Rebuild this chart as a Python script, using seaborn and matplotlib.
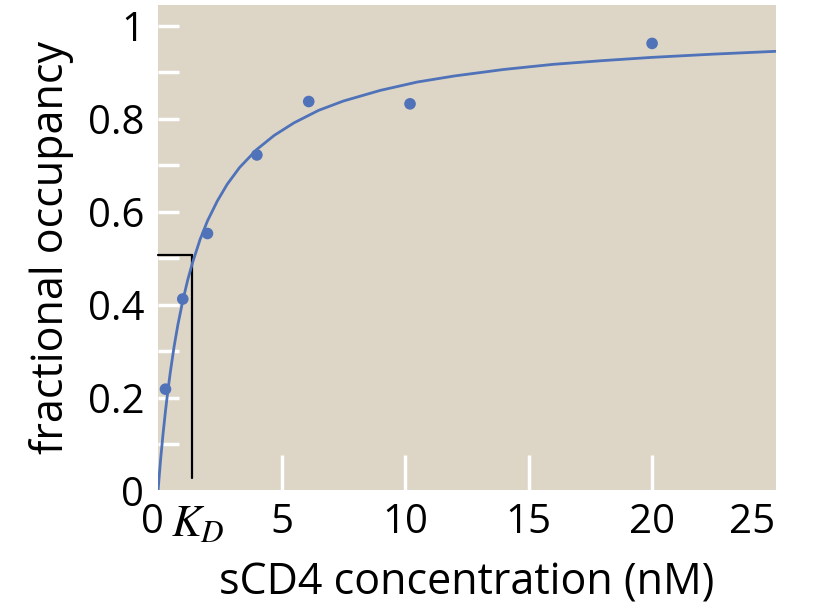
import matplotlib
matplotlib.use("Agg")
import matplotlib.pyplot as plt
import matplotlib.transforms as mtransforms
import seaborn as sns
import pandas as pd

conc = [0.3, 1.0, 2.0, 4.0, 6.1, 10.2, 20.0]
occupancy = [0.218, 0.412, 0.553, 0.722, 0.837, 0.832, 0.962]

# fitted curve, points
curve_x = [0, 0.05, 0.1, 0.2, 0.3, 0.4, 0.5, 0.65, 0.8, 1.0, 1.2, 1.4, 1.7, 2.0,
           2.4, 2.8, 3.3, 4.0, 4.7, 5.5, 6.5, 7.5, 9.0, 10.5, 12.0, 14.0,
           16.0, 18.0, 20.0, 22.5, 25.0]
curve_y = [0, 0.033, 0.065, 0.121, 0.171, 0.216, 0.256, 0.310, 0.356, 0.408,
           0.453, 0.491, 0.540, 0.580, 0.623, 0.659, 0.695, 0.734, 0.764,
           0.791, 0.818, 0.838, 0.861, 0.879, 0.892, 0.906, 0.917, 0.925,
           0.932, 0.939, 0.945]

# K_D bracket
kd = 1.38
kd_level = 0.507
kd_bottom = 0.027

x_ticks = [0, kd, 5, 10, 15, 20, 25]
x_labels = ["0", "$K_D$", "5", "10", "15", "20", "25"]
y_ticks = [0, 0.2, 0.4, 0.6, 0.8, 1.0]
y_labels = ["0", "0.2", "0.4", "0.6", "0.8", "1"]
y_minor = [0.1, 0.3, 0.5, 0.7, 0.9]

BG = "#ddd6c7"
BLUE = "#4f72b8"

sns.set_style("white")
plt.rcParams["font.family"] = ["Open Sans", "DejaVu Sans"]
plt.rcParams["mathtext.fontset"] = "stix"
plt.rcParams["text.color"] = "black"
plt.rcParams["xtick.labelcolor"] = "black"
plt.rcParams["ytick.labelcolor"] = "black"
plt.rcParams["axes.labelcolor"] = "black"

pts = pd.DataFrame({"x": conc, "y": occupancy})
fit = pd.DataFrame({"x": curve_x, "y": curve_y})

fig = plt.figure(figsize=(8.19, 6.07), dpi=100)
ax = fig.add_axes([0.193, 0.192, 0.754, 0.8])
ax.set_facecolor(BG)

sns.lineplot(data=fit, x="x", y="y", ax=ax, color=BLUE, linewidth=2, zorder=3)
sns.scatterplot(data=pts, x="x", y="y", ax=ax, color=BLUE, s=70, edgecolor="none", zorder=4)

ax.plot([0, kd], [kd_level, kd_level], color="black", lw=1.6, zorder=2, clip_on=False)
ax.plot([kd, kd], [kd_level, kd_bottom], color="black", lw=1.6, zorder=2)

ax.set_xlim(0, 25)
ax.set_ylim(0, 1.045)
for s in ax.spines.values():
    s.set_visible(False)

ax.set_xticks(x_ticks)
ax.set_xticklabels(x_labels)
ax.set_yticks(y_ticks)
ax.set_yticklabels(y_labels)
ax.set_yticks(y_minor, minor=True)

ax.tick_params(axis="x", bottom=True, direction="in", length=25, width=2.5,
               color="white", labelsize=29, pad=9)
ax.tick_params(axis="y", which="both", left=True, direction="in", length=15,
               width=2.5, color="white", labelsize=29, pad=10)

xt = ax.xaxis.get_major_ticks()
for i in (0, 1, 6):
    xt[i].tick1line.set_visible(False)
lbls = ax.get_xticklabels()
lbls[0].set_transform(lbls[0].get_transform()
                      + mtransforms.ScaledTranslation(-6 / 100, 0, fig.dpi_scale_trans))
lbls[1].set_fontsize(32)
lbls[1].set_transform(lbls[1].get_transform()
                      + mtransforms.ScaledTranslation(6 / 100, 0, fig.dpi_scale_trans))
lbls[-1].set_horizontalalignment("right")
ax.yaxis.get_major_ticks()[0].tick1line.set_visible(False)

ax.set_xlabel("sCD4 concentration (nM)", fontsize=31, labelpad=10)
ax.set_ylabel("fractional occupancy", fontsize=31, labelpad=10)

plt.savefig("out.png", dpi=100)
